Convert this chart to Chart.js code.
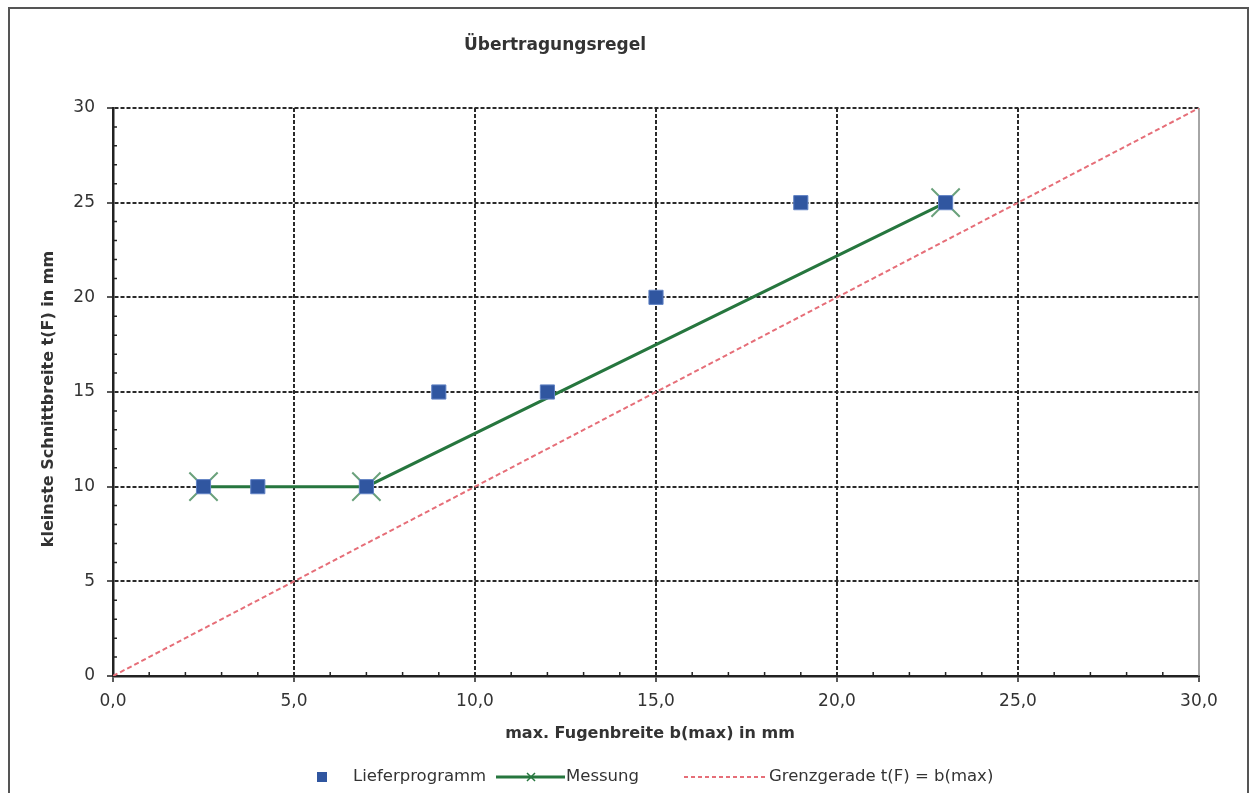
<!doctype html>
<html>

<head>
  <meta charset="utf-8">
  <title>Übertragungsregel</title>
  <script src="https://cdn.jsdelivr.net/npm/chart.js@4.4.1/dist/chart.umd.min.js"></script>
  <style>
    html, body {
      margin: 0;
      padding: 0;
      background: #fff;
    }
  </style>
</head>

<body>
  <canvas id="myChart" width="1254" height="793"></canvas>

  <script>
    var chartTitle = 'Übertragungsregel';
    var xTitle = 'max. Fugenbreite b(max) in mm';
    var yTitle = 'kleinste Schnittbreite t(F) in mm';

    var lieferLabel = 'Lieferprogramm';
    var lieferX = [2.5, 4, 7, 9, 12, 15, 19, 23];
    var lieferY = [10, 10, 10, 15, 15, 20, 25, 25];

    var messungLabel = 'Messung';
    var messungX = [2.5, 7, 23];
    var messungY = [10, 10, 25];

    var grenzLabel = 'Grenzgerade t(F) = b(max)';
    var grenzX = [0, 30];
    var grenzY = [0, 30];

    var axisMin = 0;
    var axisMax = 30;
    var majorStep = 5;
    var minorStep = 1;

    var colors = {
      blue: 'rgb(48, 86, 160)',
      blueEdge: 'rgb(96, 130, 196)',
      green: 'rgb(38, 118, 62)',
      greenMarker: 'rgba(80, 145, 100, 0.85)',
      red: 'rgb(230, 110, 120)',
      grid: '#2a2a2a',
      axis: '#222',
      text: '#333'
    };

    var font = "'DejaVu Sans', Verdana, sans-serif";
    Chart.defaults.font.family = font;

    function toPoints(xs, ys) {
      return xs.map(function(x, i) {
        return { x: x, y: ys[i] };
      });
    }

    // frame, minor ticks, titles and legend
    var decor = {
      id: 'decor',
      beforeDraw: function(chart) {
        var ctx = chart.ctx;
        ctx.save();
        ctx.fillStyle = '#fff';
        ctx.fillRect(0, 0, chart.width, chart.height);
        ctx.strokeStyle = '#555';
        ctx.lineWidth = 2;
        ctx.strokeRect(9, 8, 1239, 820);
        ctx.restore();
      },
      beforeDatasetsDraw: function(chart) {
        var ctx = chart.ctx;
        var area = chart.chartArea;
        var xs = chart.scales.x;
        var ys = chart.scales.y;
        ctx.save();
        ctx.strokeStyle = '#888';
        ctx.lineWidth = 1.5;
        ctx.beginPath();
        ctx.moveTo(area.right, area.top);
        ctx.lineTo(area.right, area.bottom);
        ctx.stroke();

        ctx.strokeStyle = colors.axis;
        ctx.lineWidth = 1.5;
        ctx.beginPath();
        for (var v = axisMin + minorStep; v < axisMax; v += minorStep) {
          if (v % majorStep === 0) continue;
          var px = xs.getPixelForValue(v);
          ctx.moveTo(px, area.bottom);
          ctx.lineTo(px, area.bottom - 4);
          var py = ys.getPixelForValue(v);
          ctx.moveTo(area.left, py);
          ctx.lineTo(area.left + 4, py);
        }
        ctx.stroke();
        ctx.restore();
      },
      afterDraw: function(chart) {
        var ctx = chart.ctx;
        var area = chart.chartArea;
        ctx.save();
        ctx.fillStyle = colors.text;

        ctx.font = 'bold 17px ' + font;
        ctx.textAlign = 'center';
        ctx.textBaseline = 'middle';
        ctx.fillText(chartTitle, 555, 46);

        ctx.font = 'bold 16px ' + font;
        ctx.fillText(xTitle, (area.left + area.right) / 2 - 6, 734);

        ctx.save();
        ctx.translate(49, 399);
        ctx.rotate(-Math.PI / 2);
        ctx.fillText(yTitle, 0, 0);
        ctx.restore();

        // legend
        var ly = 777;
        ctx.font = '16.5px ' + font;
        ctx.textAlign = 'left';

        ctx.fillStyle = colors.blue;
        ctx.fillRect(317, ly - 5, 10, 10);
        ctx.fillStyle = colors.text;
        ctx.fillText(lieferLabel, 353, ly);

        ctx.strokeStyle = colors.green;
        ctx.lineWidth = 3;
        ctx.beginPath();
        ctx.moveTo(496, ly);
        ctx.lineTo(565, ly);
        ctx.stroke();
        ctx.lineWidth = 1.5;
        ctx.beginPath();
        ctx.moveTo(527, ly - 4);
        ctx.lineTo(535, ly + 4);
        ctx.moveTo(535, ly - 4);
        ctx.lineTo(527, ly + 4);
        ctx.stroke();
        ctx.fillText(messungLabel, 566, ly);

        ctx.strokeStyle = colors.red;
        ctx.lineWidth = 2;
        ctx.setLineDash([4, 3]);
        ctx.beginPath();
        ctx.moveTo(684, ly);
        ctx.lineTo(765, ly);
        ctx.stroke();
        ctx.setLineDash([]);
        ctx.fillText(grenzLabel, 769, ly);

        ctx.restore();
      }
    };

    var config = {
      type: 'scatter',
      data: {
        datasets: [{
          label: lieferLabel,
          data: toPoints(lieferX, lieferY),
          pointStyle: 'rect',
          pointRadius: 10,
          backgroundColor: colors.blue,
          borderColor: colors.blueEdge,
          borderWidth: 1,
          showLine: false
        }, {
          label: messungLabel,
          data: toPoints(messungX, messungY),
          showLine: true,
          borderColor: colors.green,
          borderWidth: 3,
          pointStyle: 'crossRot',
          pointRadius: 20,
          pointBorderWidth: 2,
          pointBorderColor: colors.greenMarker,
          pointBackgroundColor: colors.greenMarker
        }, {
          label: grenzLabel,
          data: toPoints(grenzX, grenzY),
          showLine: true,
          borderColor: colors.red,
          borderWidth: 2,
          borderDash: [5, 3],
          pointRadius: 0
        }]
      },
      options: {
        responsive: false,
        animation: false,
        events: [],
        layout: {
          padding: { left: 0, top: 108, right: 55, bottom: 47 }
        },
        scales: {
          x: {
            type: 'linear',
            min: axisMin,
            max: axisMax,
            afterFit: function(scale) { scale.height = 70; },
            ticks: {
              stepSize: majorStep,
              color: colors.text,
              font: { size: 17 },
              padding: 9,
              maxRotation: 0,
              callback: function(v) { return v.toFixed(1).replace('.', ','); }
            },
            grid: {
              color: function(ctx) {
                return ctx.tick && ctx.tick.value === axisMax ? 'rgba(0,0,0,0)' : colors.grid;
              },
              lineWidth: 2,
              tickColor: colors.axis,
              tickLength: 6,
              tickWidth: 1.5
            },
            border: {
              color: colors.axis,
              width: 2.5,
              dash: [4, 2]
            }
          },
          y: {
            type: 'linear',
            min: axisMin,
            max: axisMax,
            afterFit: function(scale) { scale.width = 113; },
            ticks: {
              stepSize: majorStep,
              color: colors.text,
              font: { size: 17 },
              padding: 12
            },
            grid: {
              color: colors.grid,
              lineWidth: 2,
              tickColor: colors.axis,
              tickLength: 6,
              tickWidth: 1.5
            },
            border: {
              color: colors.axis,
              width: 2.5,
              dash: [4, 2]
            }
          }
        },
        plugins: {
          legend: { display: false },
          title: { display: false },
          tooltip: { enabled: false }
        }
      },
      plugins: [decor]
    };

    var ctx = document.getElementById('myChart').getContext('2d');
    window.myChart = new Chart(ctx, config);
  </script>
</body>

</html>
